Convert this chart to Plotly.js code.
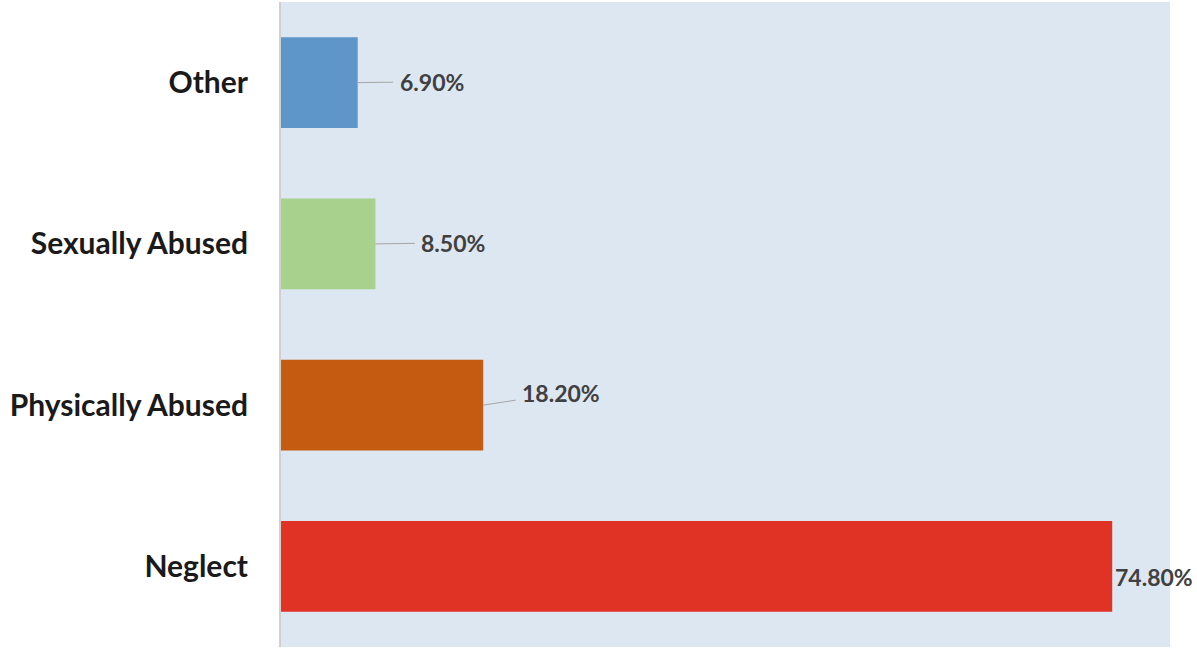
<!DOCTYPE html>
<html>
<head>
<meta charset="utf-8">
<script src="https://cdn.plot.ly/plotly-3.0.1.min.js"></script>
<style>html,body{margin:0;padding:0;background:#fff}#chart{width:1197px;height:651px}</style>
</head>
<body>
<div id="chart"></div>
<script>
// Data (bottom to top)
const categories = ['Neglect', 'Physically Abused', 'Sexually Abused', 'Other'];
const percentages = [74.8, 18.2, 8.5, 6.9];
const labels = ['74.80%', '18.20%', '8.50%', '6.90%'];
const barColors = ['#e03326', '#c55a11', '#a9d18e', '#5f96c9'];

// label placement (pixel offsets from bar end)
const labelOffsets = [
  {ax: 42, ay: 11, arrow: false},
  {ax: 78, ay: -12, arrow: true},
  {ax: 78, ay: -1, arrow: true},
  {ax: 74, ay: -1, arrow: true}
];

const trace = {
  type: 'bar',
  orientation: 'h',
  y: categories,
  x: percentages,
  marker: {color: barColors},
  hoverinfo: 'none'
};

const annotations = categories.map((c, i) => {
  const o = labelOffsets[i];
  const a = {
    x: percentages[i], y: c, xref: 'x', yref: 'y',
    text: labels[i],
    font: {family: 'Lato, "Open Sans", sans-serif', size: 23, color: '#404040', weight: 'bold'},
    showarrow: o.arrow
  };
  if (o.arrow) {
    Object.assign(a, {ax: o.ax, ay: o.ay, arrowhead: 0, arrowwidth: 1, arrowcolor: '#a6a6a6', standoff: 0, startstandoff: 0, borderpad: 6});
  } else {
    Object.assign(a, {xshift: o.ax, yshift: -o.ay});
  }
  return a;
});

const layout = {
  width: 1197, height: 651,
  margin: {l: 281, r: 27, t: 2, b: 4, pad: 0},
  paper_bgcolor: '#ffffff',
  plot_bgcolor: '#dde7f1',
  bargap: 0.437,
  showlegend: false,
  xaxis: {range: [0, 80], showgrid: false, zeroline: false, showticklabels: false, ticks: '', fixedrange: true},
  yaxis: {
    type: 'category', categoryorder: 'array', categoryarray: categories,
    showline: true, linecolor: '#d0d0d0', linewidth: 2,
    showgrid: false, zeroline: false, ticks: '',
    ticklabelstandoff: 25,
    tickfont: {family: 'Lato, "Open Sans", sans-serif', size: 30, color: '#1a1a1a', weight: 'bold'},
    range: [-0.5, 3.5]
  },
  annotations: annotations
};

Plotly.newPlot('chart', [trace], layout, {displayModeBar: false, staticPlot: true});
</script>
</body>
</html>
